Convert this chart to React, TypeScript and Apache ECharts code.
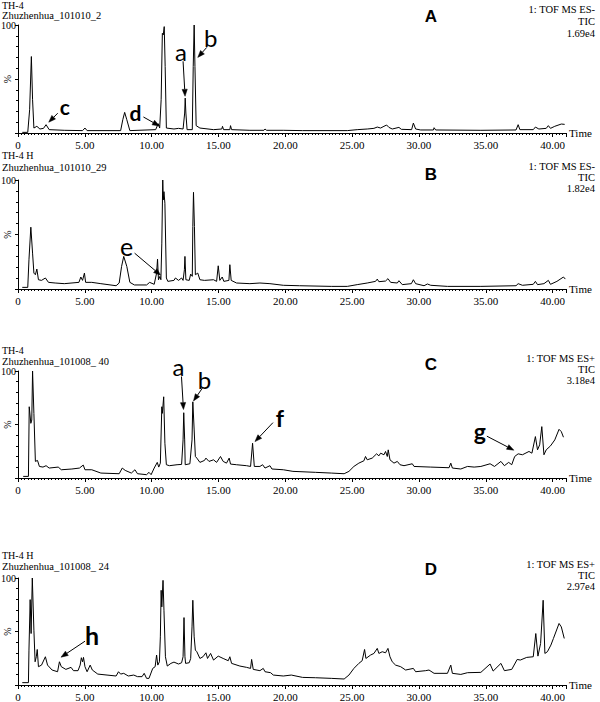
import React, { useEffect, useRef } from "react";
import * as echarts from "echarts";

// ---------- DATA ----------
const xTickLabels = ["0", "5.00", "10.00", "15.00", "20.00", "25.00", "30.00", "35.00", "40.00"];

const sampleIds = ["TH-4", "TH-4 H", "TH-4", "TH-4 H"];
const sampleNames = ["Zhuzhenhua_101010_2", "Zhuzhenhua_101010_29", "Zhuzhenhua_101008_ 40", "Zhuzhenhua_101008_ 24"];
const modes = ["1: TOF MS ES-", "1: TOF MS ES-", "1: TOF MS ES+", "1: TOF MS ES+"];
const traceKind = ["TIC", "TIC", "TIC", "TIC"];
const scales = ["1.69e4", "1.82e4", "3.18e4", "2.97e4"];
const panelLetters = ["A", "B", "C", "D"];

// [time (min), relative intensity (%)]
const traceA: [number, number][] = [
  [0.32, 0.6], [0.73, 0.6], [0.87, 21.5], [1.0, 70.8], [1.09, 30.8], [1.19, 4.6], [1.41, 6.2], [1.64, 3.7],
  [1.91, 4.3], [2.1, 7.7], [2.33, 3.1], [3.46, 2.5], [4.83, 2.2], [5.01, 4.6], [5.17, 2.2], [7.68, 2.2],
  [7.84, 12.3], [7.98, 19.1], [8.14, 12.3], [8.37, 2.2], [10.3, 3.1], [10.49, 8.6], [10.6, 4.6], [10.71, 30.8],
  [10.8, 92.3], [10.87, 90.8], [10.94, 98.5], [11.01, 61.5], [11.1, 4.6], [11.67, 3.7], [12.01, 4.3], [12.35, 3.7],
  [12.47, 18.5], [12.51, 32.3], [12.56, 18.5], [12.65, 3.1], [13.04, 3.1], [13.11, 61.5], [13.18, 100], [13.24, 61.5],
  [13.33, 6.8], [13.61, 4.6], [14.63, 3.1], [15.25, 3.7], [15.3, 6.2], [15.38, 3.1], [15.85, 3.1], [15.9, 6.8],
  [15.98, 3.1], [17.35, 2.5], [18.4, 2.5], [18.48, 3.7], [18.6, 2.5], [19.85, 2.5], [21.29, 2.2], [24.64, 2.2],
  [25.38, 3.1], [26.13, 3.7], [26.63, 4.3], [26.88, 5.5], [27.13, 4.6], [27.38, 6.2], [27.58, 7.4], [27.75, 5.2],
  [28.0, 3.7], [28.5, 5.2], [28.68, 3.4], [29.45, 3.1], [29.58, 9.2], [29.75, 3.7], [30.13, 2.8], [31.08, 2.8],
  [31.13, 4.9], [31.25, 2.8], [34.63, 2.5], [37.26, 2.8], [37.42, 7.7], [37.55, 3.1], [38.55, 3.1], [38.71, 5.5],
  [38.97, 3.7], [39.52, 4.3], [39.68, 6.8], [39.84, 4.3], [40.16, 6.2], [40.65, 8.3], [40.9, 8.0],
];

const traceB: [number, number][] = [
  [0.32, 1.5], [0.73, 1.5], [0.82, 26.8], [0.96, 56.7], [1.09, 32.9], [1.19, 14.6], [1.3, 13.1], [1.41, 18.3],
  [1.53, 8.5], [1.76, 7.9], [2.05, 10.1], [2.28, 6.1], [2.78, 5.5], [3.46, 4.9], [4.56, 6.1], [4.7, 11.0],
  [4.83, 7.9], [4.97, 14.6], [5.06, 6.1], [5.52, 6.1], [6.2, 4.9], [7.34, 3.0], [7.57, 5.5], [7.75, 20.7],
  [7.91, 29.9], [8.14, 20.7], [8.37, 6.1], [8.71, 3.7], [9.62, 3.7], [9.85, 6.1], [10.19, 4.3], [10.37, 14.6],
  [10.44, 27.4], [10.51, 8.5], [10.62, 11.6], [10.69, 8.5], [10.76, 42.1], [10.83, 100], [10.87, 81.7], [10.92, 89.3],
  [10.99, 78.7], [11.1, 10.1], [11.21, 7.0], [11.67, 7.9], [11.78, 10.1], [12.01, 7.9], [12.24, 10.1], [12.35, 7.9],
  [12.45, 17.7], [12.49, 29.9], [12.56, 8.5], [12.81, 7.9], [12.92, 13.7], [13.04, 11.6], [13.08, 57.3], [13.13, 88.7],
  [13.2, 57.3], [13.27, 13.1], [13.45, 14.6], [13.61, 8.5], [13.95, 7.9], [14.63, 8.5], [14.86, 7.0], [14.98, 21.3],
  [15.1, 7.9], [15.28, 11.0], [15.4, 7.0], [15.78, 7.9], [15.85, 22.3], [15.95, 7.9], [16.35, 5.5], [17.35, 4.9],
  [18.1, 5.5], [18.85, 4.9], [19.85, 3.4], [21.05, 3.0], [23.44, 2.4], [24.64, 2.4], [25.38, 4.0], [26.13, 5.5],
  [26.75, 7.0], [26.88, 9.1], [27.0, 6.7], [27.5, 7.3], [27.68, 9.5], [27.88, 6.1], [28.38, 5.5], [28.5, 7.6],
  [28.75, 4.0], [29.43, 4.9], [29.58, 8.5], [29.75, 4.9], [30.38, 3.0], [30.63, 4.6], [30.88, 3.4], [32.13, 2.4],
  [34.63, 2.4], [37.26, 3.0], [37.42, 4.9], [37.74, 3.4], [38.55, 4.3], [38.71, 7.0], [38.87, 4.0], [39.35, 4.9],
  [39.68, 7.9], [39.84, 4.3], [40.32, 7.0], [40.81, 11.0], [40.95, 9.1],
];

const traceC: [number, number][] = [
  [0.39, 1.5], [0.78, 1.5], [0.84, 66.6], [0.96, 51.1], [1.03, 54.2], [1.09, 100], [1.19, 60.4], [1.3, 15.5],
  [1.46, 16.4], [1.6, 10.8], [1.87, 10.2], [2.1, 11.5], [2.33, 9.3], [3.01, 10.2], [3.24, 7.7], [4.03, 8.4],
  [4.6, 9.3], [4.88, 12.1], [5.01, 7.7], [5.52, 7.7], [6.2, 4.6], [7.57, 4.0], [7.8, 9.3], [8.02, 7.1],
  [8.48, 4.6], [8.75, 7.7], [8.94, 4.0], [9.62, 3.1], [9.8, 5.3], [9.96, 3.1], [10.19, 9.3], [10.42, 14.6],
  [10.53, 10.2], [10.65, 13.9], [10.76, 66.6], [10.8, 60.4], [10.9, 75.9], [10.99, 32.5], [11.1, 12.4], [11.33, 11.5],
  [11.9, 12.4], [12.24, 12.7], [12.35, 35.6], [12.4, 61.0], [12.47, 35.6], [12.51, 12.4], [12.86, 13.3], [13.02, 35.6],
  [13.08, 71.2], [13.18, 44.9], [13.27, 20.1], [13.38, 18.6], [13.61, 14.6], [13.95, 16.4], [14.06, 18.6], [14.29, 15.5],
  [14.63, 17.0], [14.86, 14.6], [15.15, 20.1], [15.35, 15.5], [15.6, 13.9], [15.8, 18.6], [15.9, 13.0], [16.35, 12.4],
  [17.1, 11.5], [17.4, 10.8], [17.55, 32.5], [17.68, 10.8], [18.1, 10.8], [18.3, 12.4], [18.48, 9.3], [18.85, 11.5],
  [19.0, 8.4], [19.85, 7.7], [20.57, 6.2], [22.25, 5.3], [23.44, 4.6], [24.4, 4.0], [24.76, 6.2], [25.13, 10.8],
  [25.5, 13.9], [25.88, 16.1], [26.0, 20.1], [26.13, 17.0], [26.5, 18.6], [26.83, 22.6], [27.0, 20.7], [27.13, 23.2],
  [27.38, 21.7], [27.5, 24.8], [27.63, 20.1], [27.7, 26.3], [27.83, 17.0], [28.13, 13.9], [28.38, 15.5], [28.58, 12.4],
  [28.88, 11.5], [29.5, 13.3], [29.63, 10.8], [30.88, 10.2], [32.25, 9.6], [32.38, 13.9], [32.5, 9.3], [33.13, 8.4],
  [33.63, 10.8], [34.13, 10.2], [34.63, 10.8], [35.32, 13.3], [35.65, 10.8], [36.13, 15.5], [36.39, 11.5], [36.71, 14.6],
  [36.94, 12.4], [37.16, 20.1], [37.42, 22.6], [37.74, 21.7], [38.23, 24.8], [38.45, 23.2], [38.71, 38.7], [38.87, 26.3],
  [39.03, 31.0], [39.19, 48.0], [39.35, 21.7], [39.52, 26.3], [39.84, 30.0], [40.16, 35.6], [40.48, 45.5], [40.65, 43.3],
  [40.81, 38.1],
];

const traceD: [number, number][] = [
  [0.32, 2.2], [0.78, 2.2], [0.82, 32.6], [0.91, 79.8], [0.98, 48.1], [1.07, 100], [1.19, 51.2], [1.28, 21.7],
  [1.37, 26.4], [1.44, 33.2], [1.53, 17.1], [1.76, 18.6], [2.05, 26.4], [2.21, 18.6], [2.55, 14.0], [2.96, 12.4],
  [3.1, 21.7], [3.24, 17.1], [3.58, 14.6], [3.97, 16.5], [4.15, 13.4], [4.49, 13.4], [4.65, 18.6], [4.74, 25.5],
  [4.83, 21.7], [4.9, 25.8], [5.01, 17.1], [5.17, 12.4], [5.4, 18.6], [5.56, 14.0], [5.97, 10.2], [6.66, 9.3],
  [7.34, 8.4], [7.52, 12.4], [7.68, 10.2], [7.91, 10.9], [8.25, 8.4], [8.66, 9.3], [8.94, 7.8], [9.28, 7.8],
  [9.44, 10.9], [9.62, 6.2], [9.8, 6.2], [10.08, 15.5], [10.26, 17.1], [10.37, 28.0], [10.46, 18.6], [10.58, 21.7],
  [10.65, 45.0], [10.71, 88.5], [10.76, 73.0], [10.85, 97.8], [10.92, 69.9], [11.03, 26.4], [11.17, 17.7], [11.44, 20.2],
  [11.67, 21.4], [12.01, 19.6], [12.24, 20.8], [12.35, 26.4], [12.42, 63.0], [12.49, 26.4], [12.54, 20.2], [12.81, 20.8],
  [12.92, 24.8], [13.02, 54.3], [13.08, 79.2], [13.18, 45.0], [13.27, 32.6], [13.38, 31.1], [13.61, 24.8], [13.84, 26.4],
  [14.06, 30.1], [14.18, 24.8], [14.41, 29.5], [14.63, 23.3], [14.98, 27.0], [15.35, 24.8], [15.73, 22.7], [15.85, 26.4],
  [15.98, 20.2], [16.6, 17.7], [17.1, 16.5], [17.4, 15.5], [17.48, 23.9], [17.6, 14.6], [18.1, 13.4], [18.35, 15.5],
  [18.48, 12.4], [18.9, 11.5], [19.1, 9.3], [19.85, 8.4], [20.45, 9.3], [21.29, 7.1], [22.25, 6.8], [23.44, 6.2],
  [24.4, 5.6], [24.76, 9.3], [25.13, 15.5], [25.5, 20.2], [25.75, 22.7], [25.93, 33.2], [26.03, 24.8], [26.38, 28.0],
  [26.63, 29.5], [26.88, 34.2], [27.0, 29.5], [27.25, 31.1], [27.5, 30.1], [27.68, 34.2], [27.83, 26.4], [28.0, 21.7],
  [28.25, 18.6], [28.63, 17.1], [29.0, 14.0], [29.58, 15.5], [29.75, 12.4], [30.5, 13.4], [30.75, 14.0], [31.13, 10.9],
  [32.13, 10.9], [32.38, 18.6], [32.5, 10.9], [33.13, 9.9], [33.63, 11.5], [34.63, 11.8], [35.32, 19.6], [35.55, 13.0],
  [36.13, 20.2], [36.39, 13.4], [36.94, 14.6], [37.35, 23.9], [37.58, 23.3], [38.06, 25.8], [38.55, 26.4], [38.74, 48.1],
  [38.9, 27.0], [39.1, 38.8], [39.29, 79.2], [39.42, 29.5], [39.61, 31.1], [39.87, 37.3], [40.06, 43.5], [40.48, 57.5],
  [40.65, 54.3], [40.87, 43.5],
];

// annotation letters: tip given in data coordinates (time, %)
const annotationLetters = ["a", "b", "c", "d", "e", "a", "b", "f", "g", "h"];
const annotationPanels = [0, 0, 0, 0, 1, 2, 2, 2, 2, 3];
const annotationTips: [number, number][] = [
  [12.5, 34], [13.45, 70], [2.3, 10], [10.58, 6.5], [10.67, 12.7],
  [12.38, 64], [13.13, 72], [17.73, 34], [37.1, 26], [3.22, 26],
];

// ---------- LAYOUT / STYLE ----------
const SERIF = "Liberation Serif";
const SANS = "Liberation Sans";
const CALI = "Lato";
const GRID_LEFT = 18;
const GRID_RIGHT = 34;
const GRID_TOPS = [25, 180, 371, 578];
const GRID_HEIGHTS = [108, 109, 107, 107];
const HEADER_Y = [[5, 15], [155, 167], [350, 361], [555, 566]];
const RIGHT_Y = [[9, 21, 33], [166, 177, 188], [358, 369, 380], [564, 575, 586]];
const LETTER_Y = [16, 174, 364, 569];
// tail / label offsets (px) relative to the arrow tip, and letter styles
const ANN_STYLE = [
  { tail: [-2, -35], label: [-4, -45], size: 24, weight: "normal" },
  { tail: [9, -10], label: [13, -20], size: 24, weight: "normal" },
  { tail: [9, -9], label: [16, -16], size: 21, weight: "bold" },
  { tail: [-16, -9], label: [-24, -13], size: 21, weight: "bold" },
  { tail: [-26, -22], label: [-34, -29], size: 25, weight: "normal" },
  { tail: [-2, -33], label: [-5, -43], size: 24, weight: "normal" },
  { tail: [9, -13], label: [11, -21], size: 24, weight: "normal" },
  { tail: [18, -19], label: [25, -24], size: 23, weight: "bold" },
  { tail: [-27, -14], label: [-34, -19], size: 23, weight: "bold" },
  { tail: [24, -16], label: [31, -22], size: 25, weight: "bold" },
];

export default function App() {
  const ref = useRef<HTMLDivElement>(null);

  useEffect(() => {
    if (!ref.current) return;
    const chart = echarts.init(ref.current, null, { renderer: "svg" });
    const traces = [traceA, traceB, traceC, traceD];

    const grid = traces.map((_, i) => ({
      left: GRID_LEFT,
      right: GRID_RIGHT,
      top: GRID_TOPS[i],
      height: GRID_HEIGHTS[i],
      containLabel: false,
      outerBoundsMode: "none",
    }));

    const xAxis = traces.map((_, i) => ({
      type: "value",
      gridIndex: i,
      min: 0,
      max: 41,
      interval: 5,
      name: "Time",
      nameLocation: "end",
      nameGap: 3,
      nameMoveOverlap: false,
      nameTextStyle: { color: "#000", fontFamily: SERIF, fontSize: 11, align: "left", verticalAlign: "middle" },
      axisLine: { show: true, onZero: false, lineStyle: { color: "#000", width: 1 } },
      axisTick: { show: true, length: 4, lineStyle: { color: "#000", width: 1 } },
      minorTick: { show: true, splitNumber: 20, length: 2, lineStyle: { color: "#000", width: 1 } },
      axisLabel: {
        color: "#000",
        fontFamily: SERIF,
        fontSize: 11,
        margin: 6,
        formatter: (v: number) => (Math.abs(v % 5) < 1e-9 && v / 5 < xTickLabels.length ? xTickLabels[v / 5] : ""),
      },
      splitLine: { show: false },
    }));

    const yAxis = traces.map((_, i) => ({
      type: "value",
      gridIndex: i,
      min: 0,
      max: 100,
      interval: 50,
      name: "%",
      nameLocation: "middle",
      nameRotate: 90,
      nameGap: 6,
      nameMoveOverlap: false,
      nameTextStyle: { color: "#000", fontFamily: SERIF, fontSize: 10 },
      axisLine: { show: true, onZero: false, lineStyle: { color: "#000", width: 1 } },
      axisTick: { show: true, length: 3, lineStyle: { color: "#000", width: 1 } },
      minorTick: { show: true, splitNumber: 5, length: 2, lineStyle: { color: "#000", width: 1 } },
      axisLabel: {
        color: "#000",
        fontFamily: SERIF,
        fontSize: 10,
        margin: 2,
        formatter: (v: number) => (v === 100 ? "100" : ""),
      },
      splitLine: { show: false },
    }));

    const series = traces.map((tr, i) => ({
      type: "line",
      xAxisIndex: i,
      yAxisIndex: i,
      data: tr,
      showSymbol: false,
      symbol: "none",
      silent: true,
      lineStyle: { color: "#000", width: 1 },
      itemStyle: { color: "#000" },
    }));

    chart.setOption({
      animation: false,
      backgroundColor: "#fff",
      textStyle: { fontFamily: SERIF },
      grid,
      xAxis,
      yAxis,
      series,
    });

    const graphic: any[] = [];
    const txt = (text: string, x: number, y: number, opts: any) => ({
      type: "text",
      x,
      y,
      silent: true,
      style: {
        text,
        fill: "#000",
        align: opts.align || "left",
        verticalAlign: "middle",
        textAlign: opts.align || "left",
        textVerticalAlign: "middle",
        fontSize: opts.size,
        fontFamily: opts.family,
        fontWeight: opts.weight || "normal",
      },
    });

    for (let i = 0; i < 4; i++) {
      graphic.push(txt(sampleIds[i], 2, HEADER_Y[i][0], { size: 10, family: SERIF }));
      graphic.push(txt(sampleNames[i], 2, HEADER_Y[i][1], { size: 10.5, family: SERIF }));
      graphic.push(txt(modes[i], 595, RIGHT_Y[i][0], { size: 10.5, family: SERIF, align: "right" }));
      graphic.push(txt(traceKind[i], 595, RIGHT_Y[i][1], { size: 10.5, family: SERIF, align: "right" }));
      graphic.push(txt(scales[i], 595, RIGHT_Y[i][2], { size: 10.5, family: SERIF, align: "right" }));
      graphic.push(txt(panelLetters[i], 431, LETTER_Y[i], { size: 17, family: SANS, weight: "bold", align: "center" }));
    }

    annotationLetters.forEach((letter, k) => {
      const p = chart.convertToPixel({ gridIndex: annotationPanels[k] } as any, annotationTips[k]) as number[];
      if (!p) return;
      const st = ANN_STYLE[k];
      const tx = p[0];
      const ty = p[1];
      const sx = tx + st.tail[0];
      const sy = ty + st.tail[1];
      const dx = tx - sx;
      const dy = ty - sy;
      const len = Math.sqrt(dx * dx + dy * dy) || 1;
      const ux = dx / len;
      const uy = dy / len;
      const hl = 7;
      const hw = 2.6;
      const bx = tx - ux * hl;
      const by = ty - uy * hl;
      graphic.push({
        type: "line",
        silent: true,
        shape: { x1: sx, y1: sy, x2: bx, y2: by },
        style: { stroke: "#000", lineWidth: 1 },
      });
      graphic.push({
        type: "polygon",
        silent: true,
        shape: {
          points: [
            [tx, ty],
            [bx - uy * hw, by + ux * hw],
            [bx + uy * hw, by - ux * hw],
          ],
        },
        style: { fill: "#000", stroke: "#000", lineWidth: 0.5 },
      });
      graphic.push(
        txt(letter, tx + st.label[0], ty + st.label[1], {
          size: st.size,
          family: CALI,
          weight: st.weight,
          align: "center",
        })
      );
    });

    chart.setOption({ graphic });

    return () => {
      chart.dispose();
    };
  }, []);

  return (
    <div
      ref={ref}
      style={{ position: "absolute", left: 0, top: 0, width: 600, height: 702, background: "#fff" }}
    />
  );
}
